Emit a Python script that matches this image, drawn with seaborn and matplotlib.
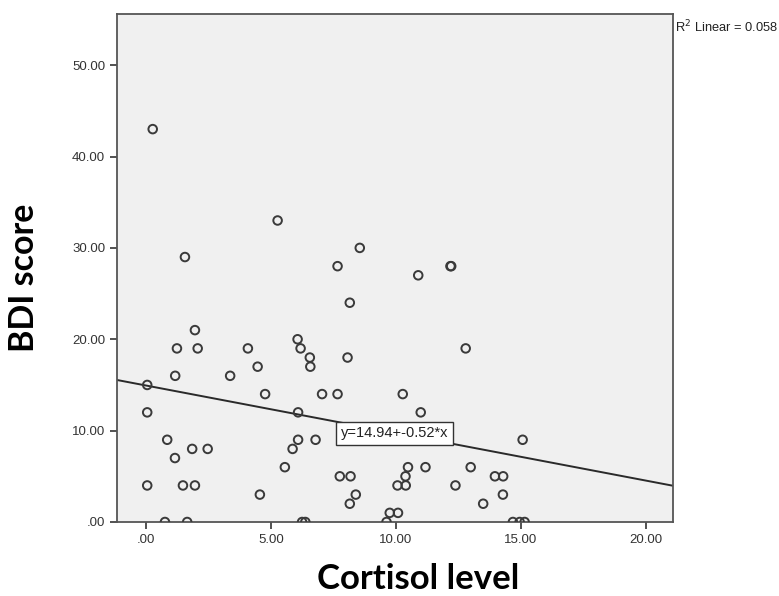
import numpy as np
import pandas as pd
import matplotlib
matplotlib.use("Agg")
import matplotlib.pyplot as plt
import seaborn as sns

# values
cortisol = [0.05, 0.05, 0.05, 0.27, 0.76, 0.85, 1.16, 1.17, 1.24, 1.48,
            1.56, 1.65, 1.85, 1.96, 1.96, 2.07, 2.47, 3.37, 4.08, 4.47,
            4.56, 4.77, 5.27, 5.56, 5.87, 6.07, 6.19, 6.09, 6.09, 6.25,
            6.38, 6.56, 6.58, 6.79, 7.05, 7.67, 7.67, 7.76, 8.19, 8.07,
            8.16, 8.40, 8.16, 8.56, 9.63, 9.76, 10.09, 10.07, 10.40, 10.39,
            10.49, 10.28, 10.90, 11.00, 11.19, 12.19, 12.22, 12.39, 12.80, 13.00,
            13.50, 13.97, 14.30, 14.29, 14.69, 14.96, 15.08, 15.16]
bdi = [15, 12, 4, 43, 0, 9, 7, 16, 19, 4,
       29, 0, 8, 4, 21, 19, 8, 16, 19, 17,
       3, 14, 33, 6, 8, 20, 19, 12, 9, 0,
       0, 18, 17, 9, 14, 14, 28, 5, 5, 18,
       24, 3, 2, 30, 0, 1, 1, 4, 4, 5,
       6, 14, 27, 12, 6, 28, 28, 4, 19, 6,
       2, 5, 5, 3, 0, 0, 9, 0]

fit_intercept = 14.94
fit_slope = -0.52
r_squared = 0.058

x_ticks = [0, 5, 10, 15, 20]
y_ticks = [0, 10, 20, 30, 40, 50]

df = pd.DataFrame({"Cortisol": cortisol, "BDI": bdi})

fig = plt.figure(figsize=(7.79, 5.96), dpi=100)
ax = fig.add_axes([117 / 779, 1 - 522 / 596, 556 / 779, 508 / 596])
ax.set_facecolor("#f0f0f0")

sns.scatterplot(data=df, x="Cortisol", y="BDI", ax=ax, marker="o",
                facecolors="none", edgecolor="#3a3a3a", linewidth=1.4, s=38,
                zorder=3)

ax.set_xlim(-1.16, 21.1)
ax.set_ylim(0, 55.6)

# fit line across the whole x range
xl = np.array(ax.get_xlim())
ax.plot(xl, fit_intercept + fit_slope * xl, color="#2a2a2a", lw=1.4, zorder=2)

ax.text(9.95, 9.7, "y=14.94+-0.52*x", ha="center", va="center", fontsize=10.5,
        family="Liberation Sans", color="#222", zorder=4,
        bbox=dict(boxstyle="square,pad=0.3", fc="white", ec="#333", lw=1))

fig.text(675 / 779, 1 - 27 / 596, "R$^2$ Linear = " + f"{r_squared:.3f}",
         ha="left", va="center", fontsize=9.3, family="Liberation Sans",
         color="#222")

fmt = lambda v, p: f"{v:.2f}".lstrip("0") if v == 0 else f"{v:.2f}"
ax.set_xticks(x_ticks)
ax.set_yticks(y_ticks)
ax.xaxis.set_major_formatter(matplotlib.ticker.FuncFormatter(fmt))
ax.yaxis.set_major_formatter(matplotlib.ticker.FuncFormatter(fmt))
ax.tick_params(direction="out", length=5, width=1.2, color="#333",
               labelsize=9.5, labelcolor="#333")
for lab in ax.get_xticklabels() + ax.get_yticklabels():
    lab.set_family("Liberation Sans")

for sp in ax.spines.values():
    sp.set_color("#555")
    sp.set_linewidth(1.3)

ax.set_xlabel("Cortisol level", fontsize=25, fontweight="bold", family="Lato")
ax.set_ylabel("BDI score", fontsize=24.5, fontweight="bold", family="Lato")
ax.xaxis.set_label_coords((418 - 117) / 556, (522 - 563) / 508)
ax.yaxis.set_label_coords((40 - 117) / 556, (522 - 278) / 508)

fig.savefig("out.png", dpi=100)
